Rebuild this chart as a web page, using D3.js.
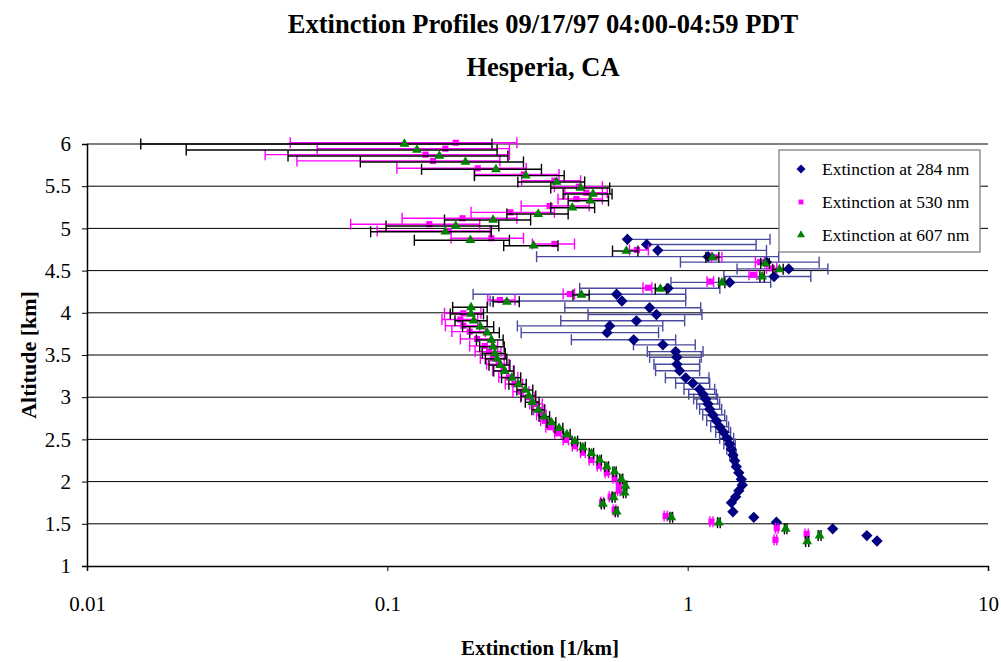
<!DOCTYPE html>
<html>
<head>
<meta charset="utf-8">
<script src="https://cdn.jsdelivr.net/npm/d3@7"></script>
<style>
  body { margin: 0; background: #fff; }
  text { font-family: "Liberation Serif", "Times New Roman", serif; }
</style>
</head>
<body>
<div id="chart"></div>
<script>
// rows are [altitude km, extinction, error bar low, error bar high]
const ext284 = [
    [4.87, 0.63, 0.63, 1.88], [4.81, 0.73, 0.73, 1.69], [4.74, 0.795, 0.795, 1.83],
    [4.665, 1.17, 0.314, 2.01], [4.60, 1.83, 0.946, 2.74], [4.52, 2.17, 1.46, 2.93],
    [4.43, 1.94, 1.32, 2.57], [4.36, 1.38, 0.88, 1.89], [4.29, 0.86, 0.437, 1.28],
    [4.22, 0.58, 0.193, 0.985], [4.14, 0.604, 0.22, 0.985], [4.06, 0.747, 0.39, 1.105],
    [3.98, 0.787, 0.466, 1.116], [3.905, 0.675, 0.378, 0.977], [3.845, 0.55, 0.271, 0.826],
    [3.765, 0.539, 0.279, 0.80], [3.68, 0.661, 0.41, 0.912], [3.62, 0.827, 0.66, 1.06],
    [3.54, 0.912, 0.734, 1.125], [3.473, 0.921, 0.747, 1.11], [3.39, 0.921, 0.772, 1.096],
    [3.314, 0.94, 0.782, 1.096], [3.23, 0.985, 0.843, 1.177], [3.165, 1.04, 0.912, 1.184],
    [3.094, 1.096, 0.972, 1.23], [3.034, 1.125, 1.008, 1.246], [2.98, 1.148, 1.047, 1.258],
    [2.92, 1.169, 1.072, 1.278], [2.857, 1.184, 1.096, 1.298], [2.79, 1.214, 1.122, 1.328],
    [2.722, 1.246, 1.157, 1.348], [2.65, 1.278, 1.193, 1.369], [2.584, 1.318, 1.24, 1.39],
    [2.513, 1.352, 1.278, 1.423], [2.445, 1.38, 1.32, 1.44], [2.383, 1.398, 1.35, 1.44],
    [2.315, 1.415, 1.38, 1.45], [2.248, 1.434, 1.41, 1.46], [2.177, 1.452, 1.452, 1.452],
    [2.105, 1.48, 1.48, 1.48], [2.027, 1.509, 1.509, 1.509], [1.96, 1.52, 1.52, 1.52],
    [1.892, 1.48, 1.48, 1.48], [1.82, 1.445, 1.445, 1.445], [1.75, 1.398, 1.398, 1.398],
    [1.643, 1.415, 1.415, 1.415], [1.577, 1.66, 1.66, 1.66], [1.518, 1.975, 1.975, 1.975],
    [1.44, 3.04, 3.04, 3.04], [1.36, 3.95, 3.95, 3.95], [1.296, 4.27, 4.27, 4.27]
];

const ext530 = [
    [6.015, 0.169, 0.0475, 0.27], [5.945, 0.156, 0.0584, 0.255], [5.874, 0.134, 0.0392, 0.255],
    [5.80, 0.142, 0.05, 0.237], [5.712, 0.20, 0.1076, 0.29], [5.64, 0.285, 0.195, 0.373],
    [5.565, 0.36, 0.28, 0.44], [5.494, 0.434, 0.36, 0.52], [5.423, 0.46, 0.39, 0.54],
    [5.348, 0.426, 0.37, 0.52], [5.265, 0.347, 0.279, 0.47], [5.19, 0.257, 0.19, 0.36],
    [5.12, 0.178, 0.112, 0.27], [5.05, 0.138, 0.0755, 0.203], [4.97, 0.16, 0.0925, 0.22],
    [4.883, 0.222, 0.163, 0.284], [4.815, 0.36, 0.304, 0.42], [4.744, 0.678, 0.64, 0.74],
    [4.657, 1.23, 1.2, 1.3], [4.60, 1.74, 1.68, 1.80], [4.527, 1.91, 1.83, 1.98],
    [4.45, 1.65, 1.6, 1.7], [4.37, 1.19, 1.16, 1.22], [4.297, 0.738, 0.71, 0.76],
    [4.223, 0.405, 0.385, 0.42], [4.152, 0.237, 0.216, 0.266],
    [3.994, 0.179, 0.155, 0.205], [3.92, 0.175, 0.152, 0.2], [3.847, 0.179, 0.156, 0.203],
    [3.777, 0.188, 0.164, 0.212], [3.69, 0.199, 0.175, 0.222], [3.607, 0.211, 0.188, 0.233],
    [3.54, 0.218, 0.196, 0.239], [3.46, 0.225, 0.204, 0.245], [3.39, 0.235, 0.214, 0.254],
    [3.314, 0.244, 0.224, 0.263], [3.236, 0.254, 0.235, 0.272], [3.156, 0.265, 0.247, 0.282],
    [3.065, 0.279, 0.262, 0.296], [3.0, 0.294, 0.278, 0.31], [2.92, 0.313, 0.298, 0.328],
    [2.85, 0.321, 0.307, 0.335], [2.79, 0.326, 0.314, 0.338], [2.72, 0.335, 0.324, 0.346],
    [2.644, 0.347, 0.337, 0.357], [2.572, 0.37, 0.361, 0.379], [2.493, 0.393, 0.385, 0.401],
    [2.42, 0.421, 0.413, 0.429], [2.343, 0.448, 0.44, 0.456], [2.256, 0.478, 0.47, 0.486],
    [2.185, 0.507, 0.5, 0.514], [2.105, 0.538, 0.531, 0.545], [2.04, 0.571, 0.564, 0.578],
    [1.96, 0.59, 0.584, 0.596], [1.892, 0.59, 0.584, 0.596], [1.82, 0.554, 0.548, 0.56],
    [1.755, 0.519, 0.513, 0.525], [1.664, 0.571, 0.565, 0.577], [1.592, 0.845, 0.835, 0.855],
    [1.525, 1.2, 1.186, 1.214], [1.447, 1.98, 1.96, 2.0], [1.38, 2.49, 2.46, 2.52],
    [1.31, 1.96, 1.94, 1.98]
];

const ext607 = [
    [6.0, 0.114, 0.0151, 0.223], [5.929, 0.1255, 0.0214, 0.232], [5.858, 0.149, 0.0467, 0.252],
    [5.787, 0.182, 0.0813, 0.284], [5.70, 0.23, 0.130, 0.326], [5.625, 0.289, 0.195, 0.388],
    [5.55, 0.366, 0.272, 0.454], [5.479, 0.44, 0.35, 0.55], [5.408, 0.484, 0.385, 0.56],
    [5.328, 0.474, 0.40, 0.545], [5.245, 0.413, 0.35, 0.49], [5.17, 0.318, 0.25, 0.40],
    [5.10, 0.225, 0.155, 0.30], [5.028, 0.169, 0.099, 0.235], [4.96, 0.156, 0.088, 0.222],
    [4.86, 0.189, 0.123, 0.255], [4.795, 0.307, 0.244, 0.37], [4.732, 0.625, 0.562, 0.683],
    [4.657, 1.21, 1.15, 1.27], [4.586, 1.81, 1.75, 1.87], [4.515, 2.02, 1.92, 2.08],
    [4.428, 1.77, 1.74, 1.80], [4.357, 1.30, 1.27, 1.33], [4.282, 0.811, 0.78, 0.85],
    [4.211, 0.443, 0.415, 0.47], [4.13, 0.25, 0.225, 0.275],
    [4.065, 0.19, 0.165, 0.215], [3.986, 0.19, 0.162, 0.209], [3.906, 0.194, 0.168, 0.215],
    [3.835, 0.204, 0.178, 0.226], [3.764, 0.215, 0.188, 0.236], [3.678, 0.222, 0.198, 0.243],
    [3.598, 0.225, 0.203, 0.245], [3.52, 0.228, 0.207, 0.247], [3.453, 0.232, 0.212, 0.25],
    [3.38, 0.238, 0.218, 0.256], [3.31, 0.246, 0.226, 0.264], [3.23, 0.26, 0.24, 0.278],
    [3.153, 0.273, 0.254, 0.29], [3.085, 0.288, 0.27, 0.305], [3.014, 0.296, 0.279, 0.312],
    [2.94, 0.304, 0.288, 0.32], [2.85, 0.318, 0.303, 0.333], [2.77, 0.333, 0.32, 0.347],
    [2.70, 0.352, 0.34, 0.364], [2.632, 0.373, 0.362, 0.384], [2.56, 0.396, 0.386, 0.406],
    [2.48, 0.421, 0.412, 0.43], [2.406, 0.448, 0.44, 0.456], [2.335, 0.478, 0.47, 0.486],
    [2.256, 0.509, 0.5, 0.516], [2.177, 0.538, 0.53, 0.545], [2.117, 0.571, 0.564, 0.578],
    [2.03, 0.601, 0.594, 0.608], [1.948, 0.621, 0.615, 0.627], [1.868, 0.617, 0.611, 0.623],
    [1.814, 0.567, 0.561, 0.573], [1.735, 0.522, 0.516, 0.528], [1.643, 0.58, 0.574, 0.586],
    [1.577, 0.882, 0.873, 0.891], [1.513, 1.27, 1.257, 1.283], [1.44, 2.12, 2.1, 2.14],
    [1.36, 2.75, 2.72, 2.78], [1.29, 2.5, 2.47, 2.53]
];

const xTicks = [0.01, 0.1, 1, 10];
const yTicks = [1, 1.5, 2, 2.5, 3, 3.5, 4, 4.5, 5, 5.5, 6];
const seriesNames = ["Extinction at 284 nm", "Extinction at 530 nm", "Extinction at 607 nm"];

const svgWidth = 1001;
const svgHeight = 662;
const margins = { top: 144, right: 13, bottom: 96, left: 87 };
const chartWidth = svgWidth - margins.left - margins.right;
const chartHeight = svgHeight - margins.top - margins.bottom;

const svg = d3.select("#chart")
    .append("svg")
    .attr("width", svgWidth)
    .attr("height", svgHeight);

const chartGroup = svg.append("g")
    .attr("transform", `translate(${margins.left}, ${margins.top})`);

const xScale = d3.scaleLog().domain([0.01, 10]).range([0, chartWidth]);
const yScale = d3.scaleLinear().domain([1, 6]).range([chartHeight, 0]);

// gridlines
chartGroup.selectAll(".grid")
    .data(yTicks.slice(1))
    .enter()
    .append("line")
    .attr("x1", 0)
    .attr("x2", chartWidth)
    .attr("y1", d => yScale(d))
    .attr("y2", d => yScale(d))
    .attr("stroke", "#000")
    .attr("stroke-width", 1);

const leftAxis = d3.axisLeft(yScale)
    .tickValues(yTicks)
    .tickSize(5)
    .tickFormat(d3.format("~g"));
const bottomAxis = d3.axisBottom(xScale)
    .tickValues(xTicks)
    .tickSize(5)
    .tickFormat(d => d);

const yAxis = chartGroup.append("g").call(leftAxis);
const xAxis = chartGroup.append("g")
    .attr("transform", `translate(0, ${chartHeight})`)
    .call(bottomAxis);

[xAxis, yAxis].forEach(ax => {
    ax.select(".domain").attr("stroke", "#000").attr("stroke-width", 1.5);
    ax.selectAll(".tick line").attr("stroke", "#000");
    ax.selectAll(".tick text")
        .attr("font-family", "Liberation Serif")
        .attr("font-size", 21)
        .attr("fill", "#000");
});
yAxis.selectAll(".tick text").attr("x", -16);
xAxis.selectAll(".tick text").attr("y", 30);

// horizontal error bars with end caps
function drawErrorBars(rows, color) {
    const bars = rows.filter(r => r[2] !== r[3]);
    const g = chartGroup.append("g").attr("stroke", color).attr("stroke-width", 1.4);
    g.selectAll(null).data(bars).enter().append("line")
        .attr("x1", d => xScale(d[2]))
        .attr("x2", d => xScale(d[3]))
        .attr("y1", d => yScale(d[0]))
        .attr("y2", d => yScale(d[0]));
    [2, 3].forEach(k => {
        g.selectAll(null).data(bars).enter().append("line")
            .attr("x1", d => xScale(d[k]))
            .attr("x2", d => xScale(d[k]))
            .attr("y1", d => yScale(d[0]) - 5.5)
            .attr("y2", d => yScale(d[0]) + 5.5);
    });
}

// square rotated 45 degrees, same width and height like the Excel diamond
const diamond = d3.symbol().type(d3.symbolSquare).size(64);
const square = d3.symbol().type(d3.symbolSquare).size(38);
const triangle = d3.symbol().type(d3.symbolTriangle).size(42);

function drawMarkers(rows, symbol, color, rotate) {
    chartGroup.append("g").selectAll("path")
        .data(rows)
        .enter()
        .append("path")
        .attr("d", symbol)
        .attr("transform", d => `translate(${xScale(d[1])}, ${yScale(d[0])}) rotate(${rotate})`)
        .attr("fill", color);
}

drawErrorBars(ext284, "#4a4aa0");
drawMarkers(ext284, diamond, "#000080", 45);
drawErrorBars(ext530, "#ff00ff");
drawMarkers(ext530, square, "#ff00ff", 0);
drawErrorBars(ext607, "#000");
drawMarkers(ext607, triangle, "#008000", 0);

// titles
svg.append("text")
    .attr("x", 543).attr("y", 33)
    .attr("text-anchor", "middle")
    .attr("font-size", 26.5).attr("font-weight", "bold")
    .text("Extinction Profiles 09/17/97 04:00-04:59 PDT");
svg.append("text")
    .attr("x", 543).attr("y", 76)
    .attr("text-anchor", "middle")
    .attr("font-size", 26.5).attr("font-weight", "bold")
    .text("Hesperia, CA");

svg.append("text")
    .attr("transform", "rotate(-90)")
    .attr("x", -355).attr("y", 36)
    .attr("text-anchor", "middle")
    .attr("font-size", 22).attr("font-weight", "bold")
    .text("Altitude [km]");

svg.append("text")
    .attr("x", 540).attr("y", 655)
    .attr("text-anchor", "middle")
    .attr("font-size", 21).attr("font-weight", "bold")
    .text("Extinction [1/km]");

// legend
const legend = svg.append("g").attr("transform", "translate(779, 150)");
legend.append("rect")
    .attr("width", 201).attr("height", 102)
    .attr("fill", "#fff").attr("stroke", "#808080").attr("stroke-width", 1.3);
const legendSymbols = [
    [d3.symbol().type(d3.symbolSquare).size(40), "#000080", 45],
    [d3.symbol().type(d3.symbolSquare).size(24), "#ff00ff", 0],
    [d3.symbol().type(d3.symbolTriangle).size(28), "#008000", 0]
];
seriesNames.forEach((name, i) => {
    legend.append("path")
        .attr("d", legendSymbols[i][0])
        .attr("transform", `translate(22, ${19 + i * 33}) rotate(${legendSymbols[i][2]})`)
        .attr("fill", legendSymbols[i][1]);
    legend.append("text")
        .attr("x", 43).attr("y", 25 + i * 33)
        .attr("font-size", 17.5)
        .text(name);
});
</script>
</body>
</html>
